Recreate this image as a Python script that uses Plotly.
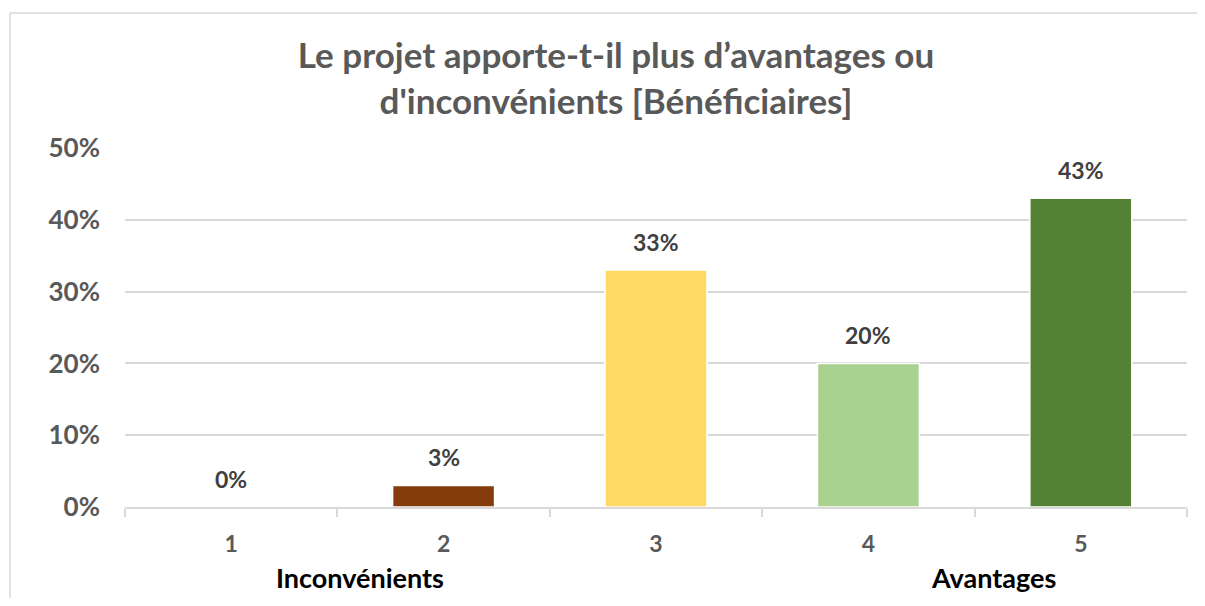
import plotly.graph_objects as go

# data
categories = ["1", "2", "3", "4", "5"]
values = [0.00, 0.03, 0.33, 0.20, 0.43]
labels = ["0%", "3%", "33%", "20%", "43%"]
bar_colors = ["#C00000", "#843C0C", "#FFD966", "#A9D18E", "#548235"]

# page puts the figure 8px in from the top-left corner
OFF = 8
W, H = 1205 - 2 * OFF, 606 - 2 * OFF
L, T = 125 - OFF, 148 - OFF
R = OFF + W - 1187
B = OFF + H - 507
pw, ph = W - L - R, H - T - B

def px_x(x):
    return (x - OFF - L) / pw

def px_y(y):
    return (H - B - (y - OFF)) / ph

FONT = "Lato, 'Open Sans', sans-serif"
GRID = "#D9D9D9"

fig = go.Figure()
fig.add_trace(go.Bar(
    x=categories, y=values,
    marker=dict(color=bar_colors, line=dict(color="white", width=1.5)),
    hoverinfo="skip",
))

# value labels above the bars (category axis -> use the category index)
for i, (v, t) in enumerate(zip(values, labels)):
    fig.add_annotation(
        x=i, y=v, text=t, showarrow=False, yanchor="middle", yshift=28,
        font=dict(family=FONT, size=23, color="#404040", weight="bold"),
    )

fig.update_layout(
    width=W, height=H,
    margin=dict(l=L, r=R, t=T, b=B),
    paper_bgcolor="white", plot_bgcolor="white",
    bargap=0.52, showlegend=False,
    title=dict(
        text="Le projet apporte-t-il plus d’avantages ou<br>d'inconvénients [Bénéficiaires]",
        x=(616 - OFF) / W, xanchor="center",
        y=1 - (68 - OFF) / H, yanchor="top",
        font=dict(family=FONT, size=35, color="#595959", weight="bold"),
    ),
    font=dict(family=FONT),
)

fig.update_yaxes(
    range=[0, 0.5], dtick=0.1, tickformat=".0%",
    showgrid=True, gridcolor=GRID, gridwidth=1.5,
    zeroline=False, showline=False, ticks="",
    ticklabelstandoff=24,
    tickfont=dict(family=FONT, size=26, color="#595959", weight="bold"),
)
fig.update_xaxes(
    type="category", showline=True, linecolor=GRID, linewidth=1.5,
    ticks="outside", tickson="boundaries", ticklen=8, tickcolor=GRID, tickwidth=1.5,
    showgrid=False, ticklabelstandoff=16,
    tickfont=dict(family=FONT, size=23, color="#595959", weight="bold"),
)

# end labels under the scale
for txt, xp in [("Inconvénients", 360), ("Avantages", 993)]:
    fig.add_annotation(
        text=txt, x=px_x(xp), y=px_y(577), xref="paper", yref="paper",
        showarrow=False, xanchor="center", yanchor="middle",
        font=dict(family=FONT, size=27, color="#000000", weight="bold"),
    )

# chart-area border (top and left edges visible in the reference)
fig.add_shape(type="line", xref="paper", yref="paper",
              x0=px_x(10), x1=px_x(1215), y0=px_y(13), y1=px_y(13),
              line=dict(color=GRID, width=1.5))
fig.add_shape(type="line", xref="paper", yref="paper",
              x0=px_x(10), x1=px_x(10), y0=px_y(13), y1=px_y(620),
              line=dict(color=GRID, width=1.5))

fig.write_html("out.html")
